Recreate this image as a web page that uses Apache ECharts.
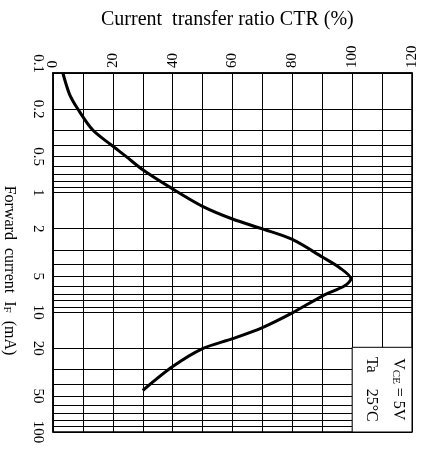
<!DOCTYPE html>
<html>
<head>
<meta charset="utf-8">
<script src="https://cdn.jsdelivr.net/npm/echarts@6/dist/echarts.min.js"></script>
<style>
  html, body { margin: 0; padding: 0; background: #fff; }
  #main { width: 422px; height: 450px; }
</style>
</head>
<body>
<div id="main"></div>
<script>
// forward current IF (mA) -> current transfer ratio CTR (%)
const ifCurrent = [0.1, 0.15, 0.2, 0.3, 0.4, 0.5, 0.643, 0.93, 1.3, 1.66, 2.01, 2.46, 3.45, 4.22, 5.25, 6.0, 7.31, 10.1, 13.4, 16.6, 20.1, 28.4, 45];
const ctr = [3.3, 5.5, 8.3, 13.3, 19.5, 24.5, 30, 40, 50, 60, 70, 80, 90, 95.7, 99.6, 97.5, 90, 80, 70, 60, 50, 40, 30];

// log axis labels and grid lines
const ifLabels = [0.1, 0.2, 0.5, 1, 2, 5, 10, 20, 50, 100];
const ifGrid = [0.1, 0.2, 0.3, 0.4, 0.5, 0.6, 0.7, 0.8, 0.9,
                1, 2, 3, 4, 5, 6, 7, 8, 9,
                10, 20, 30, 40, 50, 60, 70, 80, 90, 100];

const serif = 'Liberation Serif';

var myChart = echarts.init(document.getElementById('main'));
var option = {
  backgroundColor: '#fff',
  animation: false,
  title: {
    text: 'Current  transfer ratio CTR (%)',
    left: 96,
    top: 5,
    textStyle: { fontFamily: serif, fontSize: 20, fontWeight: 'normal', color: '#000' }
  },
  grid: {
    left: 53, right: 10, top: 73, bottom: 18,
    outerBoundsMode: 'none',
    containLabel: false,
    show: true, borderColor: '#000', borderWidth: 1.5
  },
  xAxis: {
    type: 'value',
    position: 'top',
    min: 0, max: 120, interval: 10,
    axisLine: { show: true, lineStyle: { color: '#000', width: 1.5 } },
    axisTick: { show: false },
    axisLabel: {
      rotate: -90,
      margin: 5,
      fontFamily: serif, fontSize: 15, color: '#000',
      formatter: function (v) { return v % 20 === 0 ? String(v) : ''; }
    },
    splitLine: { show: true, lineStyle: { color: '#000', width: 1 } }
  },
  yAxis: {
    type: 'log',
    logBase: 10,
    min: 0.1, max: 100,
    inverse: true,
    name: 'Forward  current  I{s|F}  (mA)',
    nameLocation: 'middle',
    nameRotate: -90,
    nameGap: 35,
    nameMoveOverlap: false,
    nameTextStyle: {
      fontFamily: serif, fontSize: 16, color: '#000',
      padding: [0, 0, 0, 36],
      rich: { s: { fontFamily: serif, fontSize: 11, color: '#000', padding: [6, 0, 0, 0] } }
    },
    axisLine: { show: true, lineStyle: { color: '#000', width: 1.5 } },
    axisTick: { show: false, customValues: ifGrid },
    axisLabel: {
      customValues: ifLabels,
      rotate: -90,
      margin: 8,
      alignMinLabel: 'right',
      fontFamily: serif, fontSize: 15, color: '#000',
      formatter: function (v) { return String(v); }
    },
    splitLine: { show: true, lineStyle: { color: '#000', width: 1 } }
  },
  series: [{
    type: 'line',
    smooth: 0.3,
    showSymbol: false,
    lineStyle: { color: '#000', width: 3 },
    data: ctr.map(function (c, i) { return [c, ifCurrent[i]]; }),
    markArea: {
      silent: true,
      itemStyle: { color: '#fff', borderColor: '#000', borderWidth: 1 },
      data: [[{ coord: [100, 19.6] }, { coord: [120, 100] }]]
    }
  }]
};
myChart.setOption(option);

// condition note inside the box, rotated like the rest of the sheet
var p1 = myChart.convertToPixel({ gridIndex: 0 }, [115.5, 44]);
var p2 = myChart.convertToPixel({ gridIndex: 0 }, [106.3, 44]);
myChart.setOption({
  graphic: [
    {
      type: 'text', x: p1[0], y: p1[1], rotation: -Math.PI / 2, z: 100,
      style: {
        text: 'V{s|CE} = 5V', align: 'center', verticalAlign: 'middle',
        font: '16px "Liberation Serif"', fill: '#000',
        rich: { s: { font: '11px "Liberation Serif"', fill: '#000', padding: [5, 0, 0, 0] } }
      }
    },
    {
      type: 'text', x: p2[0], y: p2[1], rotation: -Math.PI / 2, z: 100,
      style: {
        text: 'Ta    25\u00b0C', align: 'center', verticalAlign: 'middle',
        font: '16px "Liberation Serif"', fill: '#000'
      }
    }
  ]
});
</script>
</body>
</html>
